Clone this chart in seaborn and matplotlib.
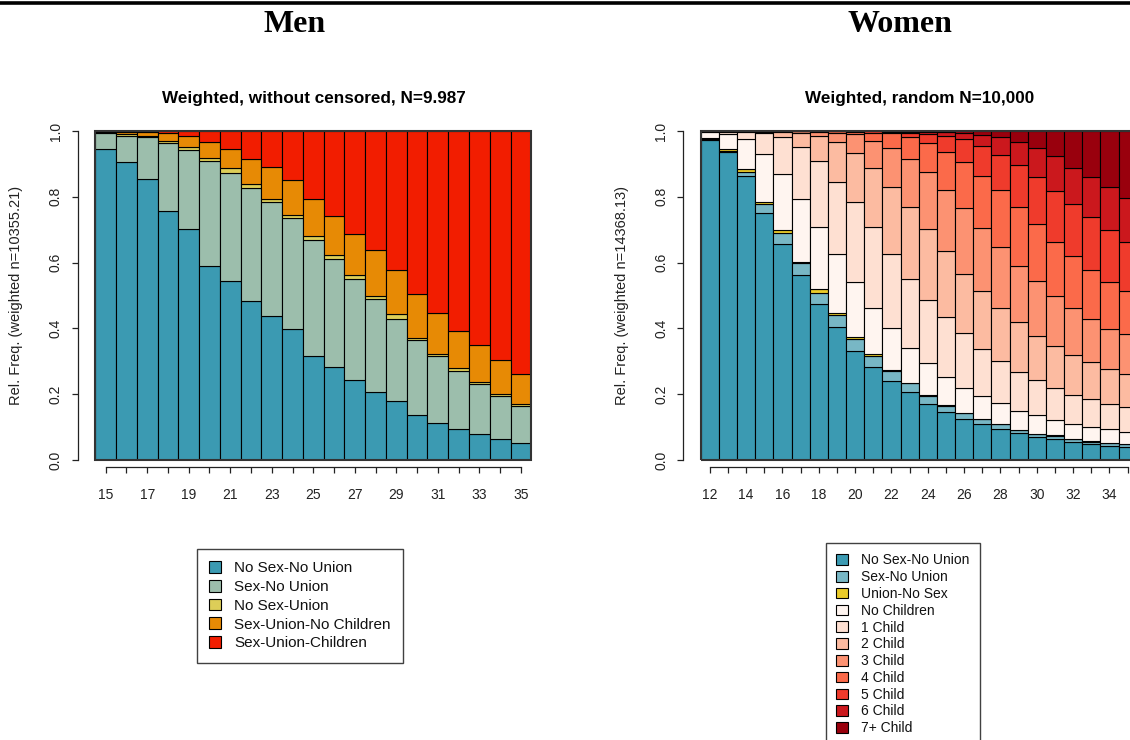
import matplotlib
matplotlib.use("Agg")
import matplotlib.pyplot as plt
import seaborn as sns
import numpy as np
from matplotlib.patches import Patch, Rectangle
from matplotlib.lines import Line2D

# ---------------- data ----------------
men_ages = list(range(15, 36))
men_categories = ["No Sex-No Union", "Sex-No Union", "No Sex-Union",
                  "Sex-Union-No Children", "Sex-Union-Children"]
men_no_sex_no_union = [0.944, 0.905, 0.853, 0.758, 0.703, 0.589, 0.543, 0.484, 0.437, 0.397, 0.315,
                       0.283, 0.243, 0.206, 0.179, 0.136, 0.113, 0.095, 0.080, 0.065, 0.051]
men_sex_no_union = [0.049, 0.080, 0.128, 0.207, 0.239, 0.319, 0.328, 0.342, 0.346, 0.338, 0.354,
                    0.328, 0.308, 0.282, 0.250, 0.228, 0.203, 0.177, 0.151, 0.130, 0.114]
men_no_sex_union = [0.003, 0.005, 0.005, 0.006, 0.010, 0.011, 0.016, 0.012, 0.011, 0.011, 0.011,
                    0.011, 0.012, 0.012, 0.016, 0.008, 0.007, 0.008, 0.007, 0.006, 0.004]
men_sex_union_no_children = [0.002, 0.007, 0.012, 0.022, 0.034, 0.048, 0.058, 0.078, 0.096, 0.106, 0.113,
                             0.120, 0.124, 0.139, 0.131, 0.132, 0.125, 0.112, 0.111, 0.104, 0.091]
men_sex_union_children = [0.002, 0.003, 0.002, 0.007, 0.014, 0.033, 0.055, 0.084, 0.110, 0.148, 0.207,
                          0.258, 0.313, 0.361, 0.424, 0.496, 0.552, 0.608, 0.651, 0.695, 0.740]
men_colors = ["#3B9AB2", "#9CBEAC", "#DDCE58", "#E78A05", "#F21D00"]

women_ages = list(range(12, 36))
women_categories = ["No Sex-No Union", "Sex-No Union", "Union-No Sex", "No Children",
                    "1 Child", "2 Child", "3 Child", "4 Child", "5 Child", "6 Child", "7+ Child"]
women_no_sex_no_union = [.973, .935, .863, .750, .658, .562, .474, .403, .331, .282, .241, .208,
                         .171, .146, .125, .109, .094, .081, .070, .063, .055, .048, .044, .041]
women_sex_no_union = [.003, .005, .013, .028, .031, .036, .034, .038, .037, .034, .031, .025,
                      .024, .018, .017, .015, .015, .010, .009, .011, .009, .008, .007, .007]
women_union_no_sex = [.002, .004, .009, .006, .010, .005, .011, .005, .005, .005, .002, .002,
                      .002, .002, .001, .001, .001, .001, .001, .001, .001, .001, .001, .001]
women_no_children = [.020, .047, .090, .146, .169, .190, .190, .179, .167, .142, .126, .106,
                     .097, .087, .077, .070, .062, .058, .056, .046, .045, .042, .041, .035]
women_child_1 = [.001, .006, .023, .063, .113, .159, .200, .221, .243, .246, .225, .209,
                 .191, .181, .167, .142, .130, .116, .107, .099, .088, .085, .076, .078]
women_child_2 = [.001, .003, .002, .005, .015, .043, .077, .122, .151, .180, .206, .218,
                 .217, .202, .178, .177, .161, .152, .135, .125, .121, .113, .108, .099]
women_child_3 = [0, 0, 0, .002, .004, .005, .011, .027, .056, .082, .116, .147,
                 .172, .185, .200, .192, .184, .173, .166, .155, .144, .133, .120, .121]
women_child_4 = [0, 0, 0, 0, 0, 0, .003, .005, .007, .024, .046, .066,
                 .091, .116, .140, .158, .174, .177, .173, .164, .158, .146, .143, .133]
women_child_5 = [0, 0, 0, 0, 0, 0, 0, 0, .003, .005, .005, .012,
                 .026, .049, .070, .091, .106, .129, .142, .155, .157, .163, .159, .147]
women_child_6 = [0, 0, 0, 0, 0, 0, 0, 0, 0, 0, .002, .005,
                 .007, .011, .020, .033, .054, .071, .088, .105, .111, .120, .132, .135]
women_child_7plus = [0, 0, 0, 0, 0, 0, 0, 0, 0, 0, 0, .002,
                     .002, .003, .005, .012, .019, .032, .053, .076, .111, .141, .169, .203]
women_colors = ["#3B9AB2", "#78B7C5", "#EBCC2A", "#FFF5F0", "#FEE0D2", "#FCBBA1",
                "#FC9272", "#FB6A4A", "#EF3B2C", "#CB181D", "#99000D"]

y_ticks = [0.0, 0.2, 0.4, 0.6, 0.8, 1.0]

# ---------------- style ----------------
sns.set_style("ticks")
plt.rcParams["font.family"] = ["Liberation Sans", "DejaVu Sans"]
plt.rcParams["text.color"] = "#111111"

W, H = 1130, 740
fig = plt.figure(figsize=(W / 100, H / 100), dpi=100)


def px(x, y, w, h):
    return [x / W, 1 - (y + h) / H, w / W, h / H]


def draw_panel(ax, ages, series, colors, ylabel):
    bottom = np.zeros(len(ages))
    for vals, col in zip(series, colors):
        sns.barplot(x=ages, y=vals, bottom=bottom.copy(), color=col, saturation=1,
                    width=1, native_scale=True, edgecolor="black", linewidth=0.8,
                    errorbar=None, ax=ax)
        bottom += np.asarray(vals, dtype=float)
    ax.set_xlim(ages[0] - 0.5, ages[-1] + 0.5)
    ax.set_ylim(0, 1)
    ax.spines["top"].set_visible(False)
    ax.spines["right"].set_visible(False)
    ax.spines["left"].set_position(("outward", 12.5))
    ax.spines["bottom"].set_position(("outward", 5))
    ax.spines["left"].set_bounds(0, 1)
    ax.spines["bottom"].set_bounds(ages[0], ages[-1])
    for s in ["left", "bottom"]:
        ax.spines[s].set_color("#222222")
        ax.spines[s].set_linewidth(0.9)
    ax.set_xticks(ages)
    ax.set_xticklabels([str(a) if i % 2 == 0 else "" for i, a in enumerate(ages)])
    ax.set_yticks(y_ticks)
    ax.set_yticklabels([f"{v:.1f}" for v in y_ticks], rotation=90, va="center")
    ax.tick_params(axis="x", direction="out", length=4.5, width=0.9, color="#222222",
                   labelsize=10, pad=11, labelcolor="#222222")
    ax.tick_params(axis="y", direction="out", length=4.5, width=0.9, color="#222222",
                   labelsize=10, pad=6.5, labelcolor="#222222")
    ax.set_xlabel("")
    ax.set_ylabel(ylabel, fontsize=10.5, color="#222222")
    ax.yaxis.set_label_coords(-0.165, 0.5)
    ax.add_patch(Rectangle((0, 0), 1, 1, transform=ax.transAxes, fill=False,
                           edgecolor="#333333", lw=1.5, clip_on=False, zorder=10))
    ax.set_facecolor("white")


ax_m = fig.add_axes(px(95.3, 131, 436, 329))
draw_panel(ax_m, men_ages,
           [men_no_sex_no_union, men_sex_no_union, men_no_sex_union,
            men_sex_union_no_children, men_sex_union_children],
           men_colors, "Rel. Freq. (weighted n=10355.21)")

ax_w = fig.add_axes(px(700.7, 131, 436, 329))
draw_panel(ax_w, women_ages,
           [women_no_sex_no_union, women_sex_no_union, women_union_no_sex,
            women_no_children, women_child_1, women_child_2, women_child_3,
            women_child_4, women_child_5, women_child_6, women_child_7plus],
           women_colors, "Rel. Freq. (weighted n=14368.13)")

# top rule
fig.add_artist(Line2D([0, 1], [1 - 3.3 / H, 1 - 3.3 / H], transform=fig.transFigure,
                      color="black", lw=2.6))

# titles
serif = ["Liberation Serif", "DejaVu Serif"]
fig.text(295 / W, 1 - 25 / H, "Men", ha="center", va="center", fontsize=23,
         fontweight="bold", family=serif, color="black")
fig.text(900 / W, 1 - 25 / H, "Women", ha="center", va="center", fontsize=23,
         fontweight="bold", family=serif, color="black")
fig.text(314 / W, 1 - 98 / H, "Weighted, without censored, N=9.987", ha="center",
         va="center", fontsize=12.3, fontweight="bold", color="black")
fig.text(920 / W, 1 - 98 / H, "Weighted, random N=10,000", ha="center",
         va="center", fontsize=12.3, fontweight="bold", color="black")

# legends
men_handles = [Patch(facecolor=c, edgecolor="black", lw=0.8) for c in men_colors]
leg_m = fig.legend(men_handles, men_categories, loc="upper left",
                   bbox_to_anchor=(197 / W, 1 - 549 / H), borderaxespad=0,
                   fontsize=11, frameon=True, fancybox=False, handlelength=0.8,
                   handleheight=0.8, handletextpad=0.85, borderpad=0.8,
                   labelspacing=0.3)
leg_m.get_frame().set_edgecolor("#111111")
leg_m.get_frame().set_linewidth(1.0)

women_handles = [Patch(facecolor=c, edgecolor="black", lw=0.8) for c in women_colors]
leg_w = fig.legend(women_handles, women_categories, loc="upper left",
                   bbox_to_anchor=(826 / W, 1 - 543 / H), borderaxespad=0,
                   fontsize=10, frameon=True, fancybox=False, handlelength=0.8,
                   handleheight=0.8, handletextpad=1.0, borderpad=0.75,
                   labelspacing=0.2)
leg_w.get_frame().set_edgecolor("#111111")
leg_w.get_frame().set_linewidth(1.0)

fig.savefig("out.png", dpi=100, facecolor="white")
